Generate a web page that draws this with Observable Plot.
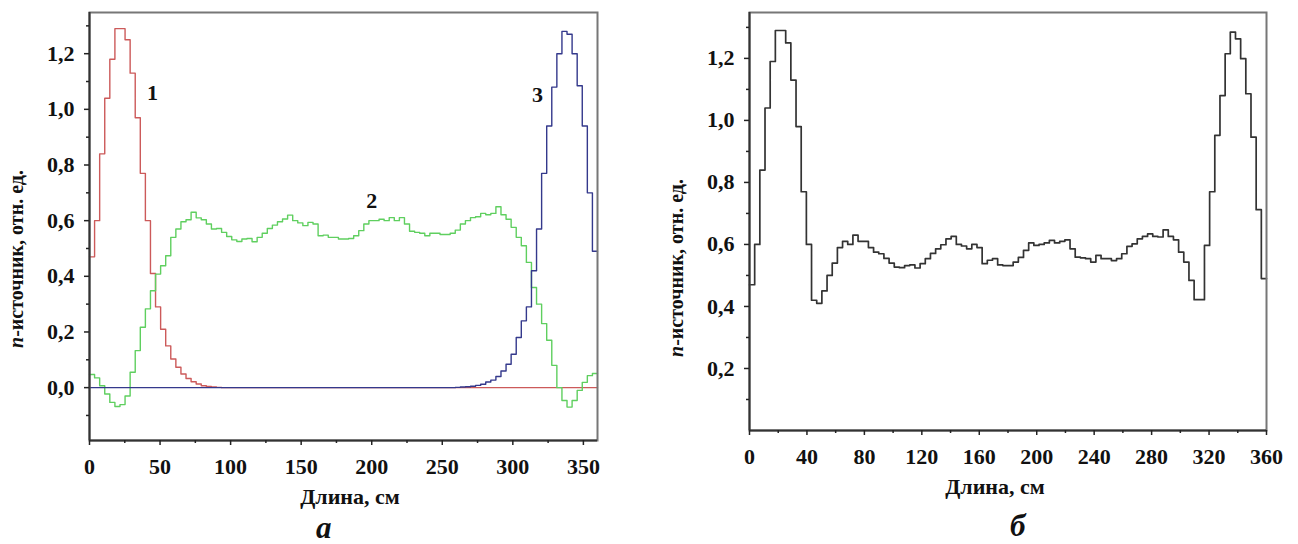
<!DOCTYPE html>
<html><head><meta charset="utf-8">
<script src="https://cdn.jsdelivr.net/npm/d3@7"></script>
<script src="https://cdn.jsdelivr.net/npm/@observablehq/plot@0.6"></script>
<style>
html,body{margin:0;padding:0;background:#fff;}
#wrap{position:relative;width:1298px;height:544px;overflow:hidden;background:#fff;}
.panel{position:absolute;top:0;}
.cap{position:absolute;font-family:"Liberation Serif","Times New Roman",serif;font-weight:bold;font-style:italic;font-size:31px;line-height:1;color:#111;}
</style></head><body><div id="wrap"></div>
<script>
// bin width (cm) of the step histograms
const BIN = 3.6;

// Panel a: curve 1 (red)
const curve1 = [
  0.47, 0.60, 0.84, 1.04, 1.18, 1.29, 1.29, 1.25, 1.13, 0.97,
  0.77, 0.60, 0.41, 0.29, 0.21, 0.15, 0.103, 0.073, 0.049, 0.033,
  0.021, 0.013, 0.007, 0.004, 0.002, 0.001, 0, 0, 0, 0,
  0, 0, 0, 0, 0, 0, 0, 0, 0, 0,
  0, 0, 0, 0, 0, 0, 0, 0, 0, 0,
  0, 0, 0, 0, 0, 0, 0, 0, 0, 0,
  0, 0, 0, 0, 0, 0, 0, 0, 0, 0,
  0, 0, 0, 0, 0, 0, 0, 0, 0, 0,
  0, 0, 0, 0, 0, 0, 0, 0, 0, 0,
  0, 0, 0, 0, 0, 0, 0, 0, 0, 0
];
// Panel a: curve 2 (green)
const curve2 = [
  0.047, 0.035, 0.007, -0.023, -0.053, -0.068, -0.061, -0.03, 0.055, 0.133,
  0.217, 0.283, 0.348, 0.408, 0.438, 0.474, 0.54, 0.57, 0.596, 0.603,
  0.63, 0.61, 0.603, 0.588, 0.57, 0.572, 0.558, 0.543, 0.531, 0.525,
  0.534, 0.536, 0.524, 0.54, 0.555, 0.572, 0.584, 0.596, 0.606, 0.62,
  0.60, 0.592, 0.582, 0.594, 0.588, 0.546, 0.548, 0.54, 0.54, 0.534,
  0.534, 0.536, 0.546, 0.564, 0.588, 0.60, 0.60, 0.605, 0.60, 0.611,
  0.60, 0.611, 0.588, 0.562, 0.558, 0.555, 0.546, 0.555, 0.555, 0.55,
  0.55, 0.555, 0.566, 0.588, 0.60, 0.611, 0.614, 0.626, 0.621, 0.626,
  0.65, 0.621, 0.605, 0.576, 0.54, 0.51, 0.45, 0.36, 0.30, 0.23,
  0.17, 0.08, 0.00, -0.046, -0.07, -0.046, -0.01, 0.019, 0.043, 0.051
];
// Panel a: curve 3 (blue)
const curve3 = [
  0, 0, 0, 0, 0, 0, 0, 0, 0, 0,
  0, 0, 0, 0, 0, 0, 0, 0, 0, 0,
  0, 0, 0, 0, 0, 0, 0, 0, 0, 0,
  0, 0, 0, 0, 0, 0, 0, 0, 0, 0,
  0, 0, 0, 0, 0, 0, 0, 0, 0, 0,
  0, 0, 0, 0, 0, 0, 0, 0, 0, 0,
  0, 0, 0, 0, 0, 0, 0, 0, 0, 0,
  0, 0, 0.001, 0.002, 0.003, 0.005, 0.008, 0.012, 0.02, 0.027,
  0.04, 0.06, 0.084, 0.12, 0.18, 0.24, 0.29, 0.42, 0.57, 0.77,
  0.94, 1.08, 1.20, 1.28, 1.27, 1.20, 1.085, 0.94, 0.70, 0.49
];
// Panel б: resulting source
const curveTotal = [
  0.47, 0.60, 0.84, 1.04, 1.19, 1.29, 1.29, 1.25, 1.13, 0.98,
  0.77, 0.60, 0.42, 0.41, 0.45, 0.50, 0.54, 0.59, 0.61, 0.60,
  0.63, 0.61, 0.61, 0.59, 0.575, 0.57, 0.555, 0.54, 0.527, 0.525,
  0.532, 0.534, 0.524, 0.538, 0.554, 0.571, 0.586, 0.599, 0.618, 0.626,
  0.60, 0.595, 0.586, 0.60, 0.59, 0.538, 0.549, 0.554, 0.534, 0.532,
  0.532, 0.543, 0.558, 0.581, 0.605, 0.597, 0.60, 0.605, 0.613, 0.605,
  0.61, 0.615, 0.586, 0.559, 0.557, 0.554, 0.543, 0.565, 0.554, 0.554,
  0.548, 0.554, 0.57, 0.594, 0.602, 0.618, 0.626, 0.634, 0.626, 0.624,
  0.647, 0.626, 0.615, 0.575, 0.543, 0.484, 0.422, 0.422, 0.597, 0.77,
  0.952, 1.08, 1.215, 1.285, 1.263, 1.199, 1.086, 0.946, 0.712, 0.49
];

// ticks
const aXMajor = [0, 50, 100, 150, 200, 250, 300, 350];
const aXMinor = [25, 75, 125, 175, 225, 275, 325];
const aYMajor = [0, 0.2, 0.4, 0.6, 0.8, 1.0, 1.2];
const aYMinor = [-0.1, 0.1, 0.3, 0.5, 0.7, 0.9, 1.1, 1.3];
const bXMajor = [0, 40, 80, 120, 160, 200, 240, 280, 320, 360];
const bXMinor = [20, 60, 100, 140, 180, 220, 260, 300, 340];
const bYMajor = [0.2, 0.4, 0.6, 0.8, 1.0, 1.2];
const bYMinor = [0.1, 0.3, 0.5, 0.7, 0.9, 1.1, 1.3];

// curve number annotations (panel a)
const curveNames = ["1", "2", "3"];
const curveNameX = [44.6, 200, 317.5];
const curveNameY = [1.06, 0.67, 1.05];

const xTitle = "Длина, см";
const yTitleItalic = "n";
const yTitleRest = "-источник, отн. ед.";
const panelNames = ["а", "б"];

const RED = "#cc5a5a", GREEN = "#5fcf5f", BLUE = "#34398c", BLACK = "#333";
const FONT = '"Liberation Serif","Times New Roman",serif';
const fmtY = d => d.toFixed(1).replace(".", ",");
const fmtX = d => String(d);

function stepRows(values) {
  const rows = values.map((v, i) => ({x: i * BIN, y: v}));
  rows.push({x: values.length * BIN, y: values[values.length - 1]});
  return rows;
}

function axes(xMajor, xMinor, yMajor, yMinor, xDom, yDom) {
  const common = {stroke: "#222", strokeWidth: 1.5};
  return [
    Plot.frame({stroke: "#777", strokeWidth: 2}),
    Plot.ruleX([xDom[0]], {stroke: "#333", strokeWidth: 2}),
    Plot.ruleY([yDom[0]], {stroke: "#333", strokeWidth: 2}),
    Plot.axisX(xMajor, {...common, tickSize: 5, tickPadding: 13, tickFormat: fmtX, label: null}),
    Plot.axisX(xMinor, {...common, tickSize: 3, tickFormat: () => "", label: null}),
    Plot.axisY(yMajor, {...common, tickSize: 5, tickPadding: 10, tickFormat: fmtY, label: null}),
    Plot.axisY(yMinor, {...common, tickSize: 3, tickFormat: () => "", label: null})
  ];
}

const style = {fontFamily: FONT, fontSize: "22px", fontWeight: "bold", color: "#111", background: "white", overflow: "visible"};

const aXDom = [0, 360], aYDom = [-0.19, 1.348];
const chartA = Plot.plot({
  width: 620, height: 544,
  marginLeft: 89, marginRight: 23, marginTop: 12, marginBottom: 104,
  x: {domain: aXDom}, y: {domain: aYDom},
  style,
  marks: [
    Plot.line(stepRows(curve1), {x: "x", y: "y", curve: "step-after", stroke: RED, strokeWidth: 1.4}),
    Plot.line(stepRows(curve2), {x: "x", y: "y", curve: "step-after", stroke: GREEN, strokeWidth: 1.4}),
    Plot.line(stepRows(curve3), {x: "x", y: "y", curve: "step-after", stroke: BLUE, strokeWidth: 1.4}),
    Plot.text(curveNames.map((t, i) => ({t, x: curveNameX[i], y: curveNameY[i]})),
      {x: "x", y: "y", text: "t", fontSize: 22, fontWeight: "bold", fill: "#111"}),
    ...axes(aXMajor, aXMinor, aYMajor, aYMinor, aXDom, aYDom)
  ]
});

const bXDom = [0, 360], bYDom = [0, 1.348];
const chartB = Plot.plot({
  width: 638, height: 544,
  marginLeft: 89, marginRight: 32, marginTop: 12, marginBottom: 114,
  x: {domain: bXDom}, y: {domain: bYDom},
  style,
  marks: [
    Plot.line(stepRows(curveTotal), {x: "x", y: "y", curve: "step-after", stroke: BLACK, strokeWidth: 1.7}),
    ...axes(bXMajor, bXMinor, bYMajor, bYMinor, bXDom, bYDom)
  ]
});

function titles(svg, xCenter, xBaseY, yLabX, yLabY) {
  const s = d3.select(svg);
  s.append("text").attr("x", xCenter).attr("y", xBaseY)
    .attr("text-anchor", "middle").attr("dominant-baseline", "central")
    .style("font-family", FONT).style("font-weight", "bold").style("font-size", "22px").attr("fill", "#111")
    .text(xTitle);
  const t = s.append("text")
    .attr("transform", `translate(${yLabX},${yLabY}) rotate(-90)`)
    .attr("text-anchor", "middle").attr("dominant-baseline", "central")
    .style("font-family", FONT).style("font-weight", "bold").style("font-size", "20px").attr("fill", "#111");
  t.append("tspan").style("font-style", "italic").text(yTitleItalic);
  t.append("tspan").text(yTitleRest);
}

const wrap = document.getElementById("wrap");
const pa = document.createElement("div"); pa.className = "panel"; pa.style.left = "0px"; pa.appendChild(chartA);
const pb = document.createElement("div"); pb.className = "panel"; pb.style.left = "660px"; pb.appendChild(chartB);
wrap.appendChild(pa); wrap.appendChild(pb);
titles(chartA, 350, 496, 16, 259);
titles(chartB, 335, 486, 16, 268);

const capA = document.createElement("div"); capA.className = "cap"; capA.textContent = panelNames[0];
capA.style.left = "316px"; capA.style.top = "512px";
const capB = document.createElement("div"); capB.className = "cap"; capB.textContent = panelNames[1];
capB.style.left = "1010px"; capB.style.top = "510px";
wrap.appendChild(capA); wrap.appendChild(capB);
</script>
</body></html>
